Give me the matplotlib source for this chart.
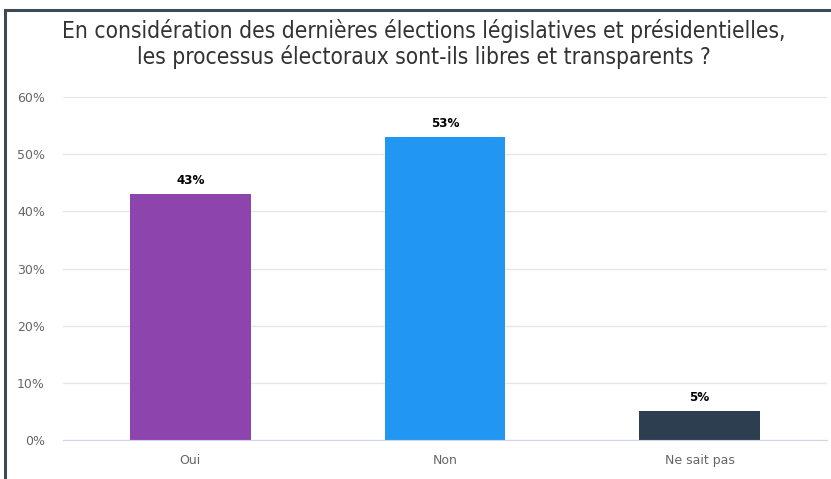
import matplotlib.pyplot as plt
from matplotlib.lines import Line2D

# survey answers
categories = ["Oui", "Non", "Ne sait pas"]
values = [43, 53, 5]
colors = ["#8e44ad", "#2196f3", "#2c3e50"]
yticks = [0, 10, 20, 30, 40, 50, 60]

title_lines = ["En considération des dernières élections législatives et présidentielles,",
               "les processus électoraux sont-ils libres et transparents ?"]

fig = plt.figure(figsize=(8.31, 4.79), dpi=100)
ax = fig.add_axes([63 / 831, 1 - 440 / 479, 764 / 831, 343 / 479])

x = range(len(categories))
bars = ax.bar(x, values, width=0.475, color=colors, zorder=2)

for b, v in zip(bars, values):
    ax.text(b.get_x() + b.get_width() / 2, v + 1.3, f"{v}%", ha="center", va="bottom",
            fontsize=9.5, fontweight="bold", color="#000000", fontstretch="condensed")

ax.set_xlim(-0.5, 2.5)
ax.set_ylim(0, 60)
ax.set_yticks(yticks)
ax.set_yticklabels([f"{t}%" for t in yticks])
ax.set_xticks(list(x))
ax.set_xticklabels(categories)
ax.tick_params(axis="both", length=0, labelsize=9, labelcolor="#666666")
ax.tick_params(axis="y", pad=13)
ax.tick_params(axis="x", pad=10)

ax.grid(axis="y", color="#e6e6e6", linewidth=1, zorder=0)
for s in ["top", "right", "left"]:
    ax.spines[s].set_visible(False)
ax.spines["bottom"].set_color("#ccd6eb")
ax.spines["bottom"].set_zorder(3)

# two title lines, placed by baseline
for line, ybase in zip(title_lines, [38, 64]):
    fig.text(424 / 831, 1 - ybase / 479, line, ha="center", va="baseline", fontsize=16.3,
             color="#333333", fontstretch="condensed")

# frame lines along the top and left edges
fig.add_artist(Line2D([5 / 831, 1], [1 - 10 / 479, 1 - 10 / 479], color="#3d4a55", linewidth=2.2))
fig.add_artist(Line2D([5 / 831, 5 / 831], [0, 1 - 10 / 479], color="#3d4a55", linewidth=2.2))

fig.savefig("out.png", dpi=100)
